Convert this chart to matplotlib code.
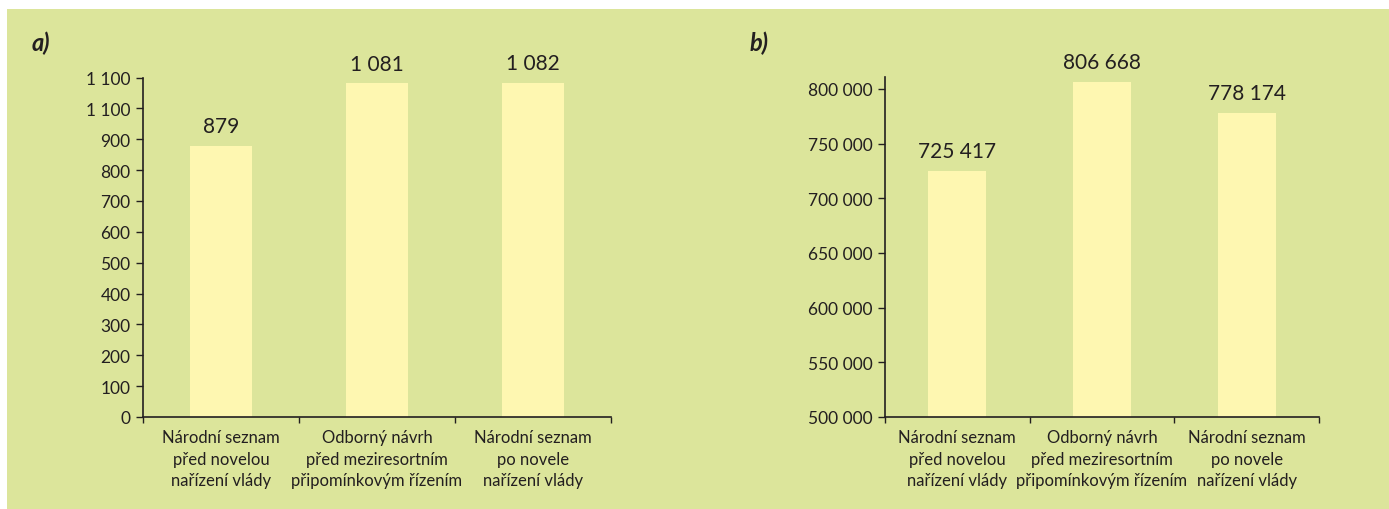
import matplotlib
matplotlib.use("Agg")
import matplotlib.pyplot as plt
from matplotlib.patches import Rectangle

plt.rcParams['font.family'] = ['Lato', 'DejaVu Sans']

categories = ['Národní seznam\npřed novelou\nnařízení vlády',
              'Odborný návrh\npřed meziresortním\npřipomínkovým řízením',
              'Národní seznam\npo novele\nnařízení vlády']

counts = [879, 1081, 1082]
count_ticks = [0, 100, 200, 300, 400, 500, 600, 700, 800, 900, 1000, 1100]
count_tick_labels = ['0', '100', '200', '300', '400', '500', '600', '700',
                     '800', '900', '1 100', '1 100']

areas = [725417, 806668, 778174]
area_ticks = [500000, 550000, 600000, 650000, 700000, 750000, 800000]
area_tick_labels = ['500 000', '550 000', '600 000', '650 000', '700 000',
                    '750 000', '800 000']

bg = '#dce59b'
bar_color = '#fef7b1'
ink = '#231f20'


def fmt(v):
    return f'{v:,}'.replace(',', ' ')


fig = plt.figure(figsize=(13.89, 5.10), dpi=100, facecolor='white')
fig.patches.append(Rectangle((7 / 1389, 0), 1, 500 / 510, transform=fig.transFigure,
                             facecolor=bg, edgecolor='none', zorder=-10))


def panel(rect, values, ylim, ticks, tick_labels, letter, letter_x):
    ax = fig.add_axes(rect)
    ax.set_facecolor('none')
    x = range(len(values))
    ax.bar(x, values, width=0.4, color=bar_color, zorder=2)
    for xi, v in zip(x, values):
        ax.annotate(fmt(v), (xi, v), xytext=(0, 7), textcoords='offset points',
                    ha='center', va='bottom', fontsize=15, color=ink)
    ax.set_xlim(-0.5, len(values) - 0.5)
    ax.set_ylim(*ylim)
    ax.set_yticks(ticks)
    ax.set_yticklabels(tick_labels)
    ax.set_xticks([i - 0.5 for i in range(len(values) + 1)])
    ax.set_xticklabels([])
    ax.set_xticks(list(x), minor=True)
    ax.set_xticklabels(categories, minor=True, fontsize=12, color=ink,
                       linespacing=1.4)
    ax.tick_params(axis='x', which='major', length=4, width=1, color=ink, direction='out')
    ax.tick_params(axis='x', which='minor', length=0, pad=9)
    ax.tick_params(axis='y', length=5, width=1, color=ink, labelsize=12.5,
                   labelcolor=ink, pad=4)
    for s in ['top', 'right']:
        ax.spines[s].set_visible(False)
    for s in ['left', 'bottom']:
        ax.spines[s].set_color(ink)
        ax.spines[s].set_linewidth(1.2)
    fig.text(letter_x, 1 - 43 / 510, letter, fontsize=17, fontweight='bold',
             fontstyle='italic', color=ink, va='center', ha='left')
    return ax


panel([143 / 1389, 92 / 510, 468 / 1389, 339.5 / 510], counts, (0, 1100),
      count_ticks, count_tick_labels, 'a)', 32 / 1389)
panel([885 / 1389, 92 / 510, 434 / 1389, 339.7 / 510], areas, (500000, 810700),
      area_ticks, area_tick_labels, 'b)', 750 / 1389)

fig.savefig('out.png', dpi=100, facecolor='white')
